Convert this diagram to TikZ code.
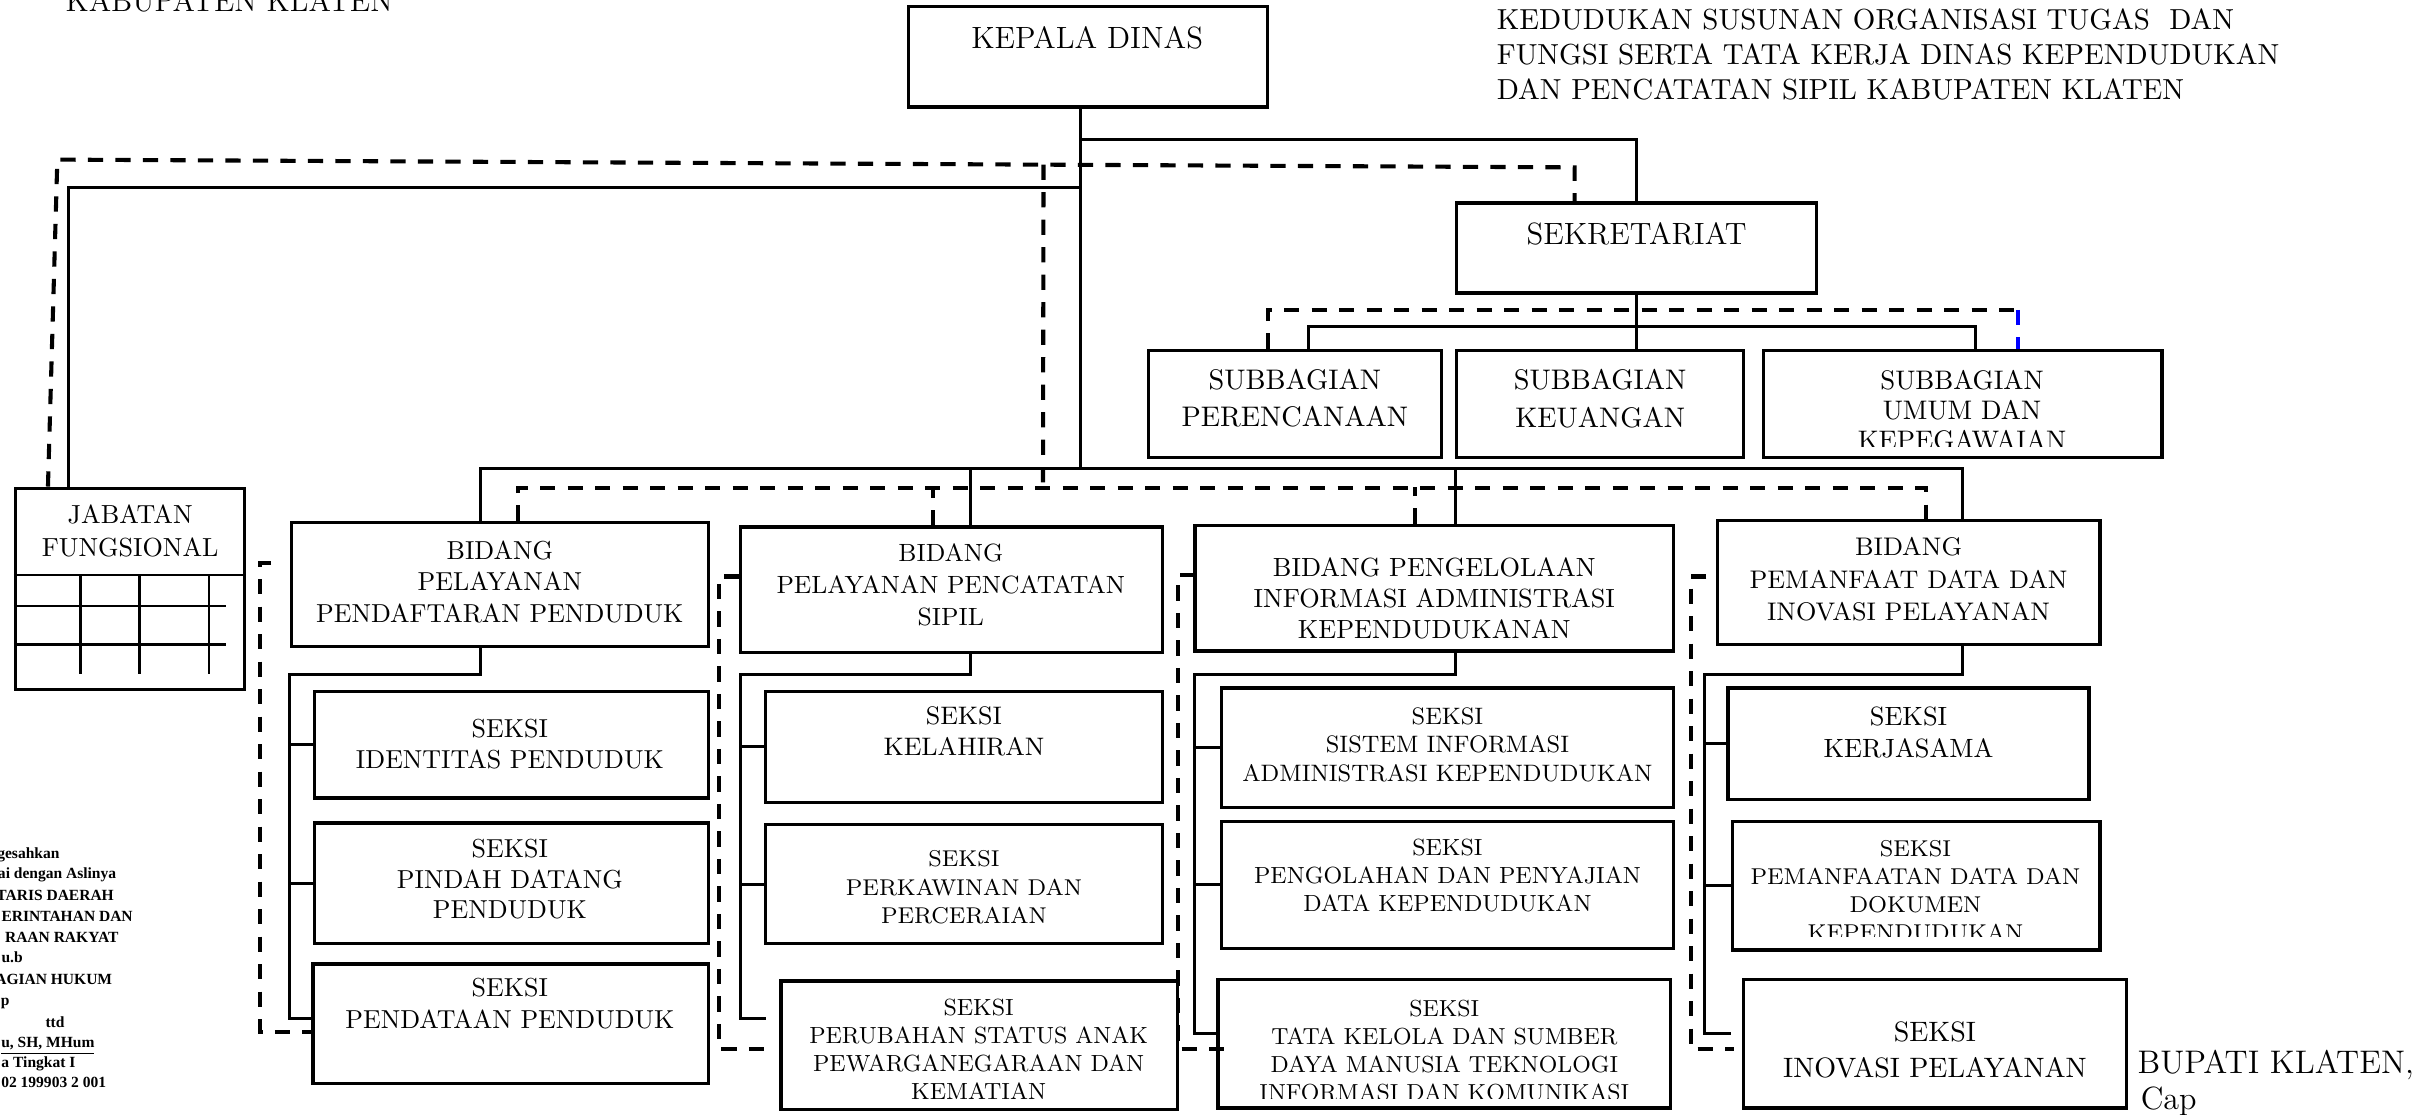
\documentclass[tikz,border=0pt]{standalone}
\usepackage{fontspec}
\newfontfamily\tnr{Liberation Serif}
\usetikzlibrary{calc}

\begin{document}
\begin{tikzpicture}[x=0.02cm, y=-0.02cm,
    kotak/.style={draw, line width=1.2pt, inner sep=0pt},
    teks/.style={align=center, inner sep=0pt},
    garis/.style={line width=1.1pt},
    putus/.style={line width=1.5pt, dash pattern=on 5.6pt off 4.5pt},
    kecil/.style={inner sep=0pt, font=\tnr\bfseries\fontsize{5.7}{7}\selectfont}]
  \useasboundingbox (0,0) rectangle (1568,719);

  \node[anchor=base west, inner sep=0pt, font=\fontsize{11.2}{13}\selectfont] (kab) at (42,7.5) {KABUPATEN KLATEN};
  \foreach \y/\tx [count=\i] in {18.9/KEDUDUKAN SUSUNAN ORGANISASI TUGAS \ DAN, 41.5/FUNGSI SERTA TATA KERJA DINAS KEPENDUDUKAN, 63.9/DAN PENCATATAN SIPIL KABUPATEN KLATEN}
    \node[anchor=base west, inner sep=0pt, font=\fontsize{10.64}{12.8}\selectfont] (judul\i) at (965.5,\y) {\tx};

  \foreach \nm/\xa/\ya/\xb/\yb in {kadis/586/4/818/69, sekre/940/131/1172/189,
      sub1/741/226/930/295, sub2/940/226/1125/295, sub3/1138/226/1395/295, jab/10/315/158/445,
      b1/188/337/457/417, b2/478/340/750/421, b3/771/339/1080/420, b4/1108/336/1355/416,
      s11/203/446/457/515, s12/203/531/457/609, s13/202/622/457/699,
      s21/494/446/750/518, s22/494/532/750/609, s23/504/633/760/716,
      s31/788/444/1080/521, s32/788/530/1080/612, s33/786/632/1078/715,
      s41/1115/444/1348/516, s42/1118/530/1355/613, s43/1125/632/1372/715}
    \node[kotak, minimum width={(\xb-\xa)*0.02cm}, minimum height={(\yb-\ya)*0.02cm}] (\nm) at ({(\xa+\xb)/2},{(\ya+\yb)/2}) {};

  \foreach \nm/\px/\py/\fs/\ls/\ct/\tx in {kadis/701.5/24.2/11.3/13/0/KEPALA DINAS,
      sekre/1056/150.6/11.3/13/0/SEKRETARIAT,
      sub1/835.5/257/10.4/13.7/0/SUBBAGIAN\\PERENCANAAN,
      sub2/1032.5/257.3/10.4/13.7/0/SUBBAGIAN\\KEUANGAN,
      sub3/1266/264.5/9.85/11.05/8/SUBBAGIAN\\UMUM DAN\\KEPEGAWAIAN,
      jab/84/342.5/9.6/11.95/0/JABATAN\\FUNGSIONAL,
      b1/322.5/375.5/9.55/11.66/0/BIDANG\\PELAYANAN\\PENDAFTARAN PENDUDUK,
      s11/329/480/9.55/11.4/0/SEKSI\\IDENTITAS PENDUDUK,
      s12/329/567.5/9.55/11.2/0/SEKSI\\PINDAH DATANG\\PENDUDUK,
      s13/329/647.5/9.55/11.95/0/SEKSI\\PENDATAAN PENDUDUK,
      b2/613.5/377.5/9.16/11.66/0/BIDANG\\PELAYANAN PENCATATAN\\SIPIL,
      s21/622/472/9.3/11.4/0/SEKSI\\KELAHIRAN,
      s22/622/572.5/8.4/10.5/0/SEKSI\\PERKAWINAN DAN\\PERCERAIAN,
      s23/631.5/677/8.58/10.25/0/SEKSI\\PERUBAHAN STATUS ANAK\\PEWARGANEGARAAN DAN\\KEMATIAN,
      b3/925.5/386/9.65/11.4/0/BIDANG PENGELOLAAN\\INFORMASI ADMINISTRASI\\KEPENDUDUKANAN,
      s31/934/480.5/8.73/10.5/0/SEKSI\\SISTEM INFORMASI\\ADMINISTRASI KEPENDUDUKAN,
      s32/934/565/8.58/10.25/0/SEKSI\\PENGOLAHAN DAN PENYAJIAN\\DATA KEPENDUDUKAN,
      s33/932/678/8.52/10.25/7.5/SEKSI\\TATA KELOLA DAN SUMBER\\DAYA MANUSIA TEKNOLOGI\\INFORMASI DAN KOMUNIKASI,
      b4/1231.5/374/9.35/11.95/0/BIDANG\\PEMANFAAT DATA DAN\\INOVASI PELAYANAN,
      s41/1231.5/472.5/9.7/11.95/0/SEKSI\\KERJASAMA,
      s42/1236/574.5/8.41/10.25/9.5/SEKSI\\PEMANFAATAN DATA DAN\\DOKUMEN\\KEPENDUDUKAN,
      s43/1248.5/677.5/10.3/13.1/0/SEKSI\\INOVASI PELAYANAN} {
    \begin{scope}
      \clip (\nm.north west) rectangle ($(\nm.south east)+(0,-\ct)$);
      \node[teks, font=\fontsize{\fs}{\ls}\selectfont] (\nm-t) at (\px,\py) {\tx};
    \end{scope}
  }

  \draw[line width=0.6pt] ($(jab.north west)+(0,57)$) -- ($(jab.north east)+(0,57)$);
  \foreach \dx in {43,81,126} \draw[line width=0.9pt] ($(jab.north west)+(\dx,57)$) -- ++(0,64);
  \foreach \dy in {77,102} \draw[line width=0.9pt] ($(jab.north west)+(0,\dy)$) -- ++(137,0);

  \coordinate (pusat) at (697,302);
  \coordinate (t1) at (697,90);
  \coordinate (t2) at (697,121);
  \coordinate (sbus) at (1056,211);
  \draw[line width=1pt] (kadis.south -| pusat) -- (pusat);
  \draw[garis] (t1) -| (sekre.north);
  \draw[garis] (t2) -| ($(jab.north west)+(35,0)$);
  \draw[line width=1pt] (sekre.south) -- (sekre.south |- sub2.north);
  \draw[garis] ($(sub1.north)+(8.5,0)$) |- (sbus) -| ($(sub3.north)+(8,0)$);
  \foreach \c/\dx in {1/-12.5, 2/12, 3/13.5, 4/34.5}
    \draw[garis] ($(b\c.north)+(\dx,0)$) |- (pusat);

  \foreach \c/\dx/\xl/\yb/\xe in {1/-12.5/187/657/202, 2/12/478/657/494, 3/13.5/771/667/787, 4/34.5/1100/667/1117} {
    \coordinate (k\c) at (\xl,435);
    \coordinate (m\c) at (\xl,\yb);
    \coordinate (e\c) at (\xe,\yb);
    \draw[garis] ($(b\c.south)+(\dx,0)$) |- (k\c) -- (m\c) -- (e\c);
    \draw[garis] (k\c |- s\c1.west) -- (s\c1.west);
    \draw[garis] (k\c |- s\c2.west) -- (s\c2.west);
  }

  \coordinate (d1) at (37,103);
  \coordinate (d2) at (1016,108);
  \coordinate (d3) at ($(d1)!0.65!(d2)$);
  \coordinate (dbus) at (673,315);
  \coordinate (sd) at (1302,200);
  \draw[putus] ($(jab.north west)+(22,0)$) -- (d1) -- (d2) -- (d2 |- sekre.north);
  \draw[putus] (d3) -- (dbus);
  \draw[putus] ($(b1.north)+(11.5,0)$) |- (dbus) -| ($(b4.north)+(11.5,0)$);
  \foreach \c/\dx/\h in {2/-12/25, 3/-12.5/24}
    \draw[putus] ($(b\c.north)+(\dx,0)$) -- ++(0,-\h);
  \draw[putus] ($(sub1.north)+(-17.5,0)$) |- (sd);
  \draw[putus, blue] (sd) -- (sd |- sub3.north);

  \foreach \c/\xs/\xd/\ya/\yb/\xe in {1/175/168/363/666/201, 2/477/464/372/677/500, 3/771/760/371/677/794, 4/1101/1091/372/677/1119} {
    \coordinate (p\c) at (\xs,\ya);
    \coordinate (r\c) at (\xd,\yb);
    \coordinate (q\c) at (\xe,\yb);
    \draw[putus] (p\c) -| (r\c) -- (q\c);
  }

  \foreach \xr/\yb/\tx [count=\i] in {38.7/554/gesahkan, 75.3/567/ai dengan Aslinya, 73.8/581/TARIS DAERAH,
      86/594.5/ERINTAHAN DAN, 76.8/608/RAAN RAKYAT, 15/621/u.b, 72.7/635/AGIAN HUKUM, 6.5/649/p,
      42/663/ttd, 61.3/676/{\underline{u, SH, MHum}}, 49/689/a Tingkat I, 68.8/701.5/02 199903 2 001}
    \node[kecil, anchor=base east] (sah\i) at (\xr,\yb) {\tx};

  \node[anchor=base west, inner sep=0pt, font=\fontsize{12}{14}\selectfont] (bupati) at (1379,693) {BUPATI KLATEN,};
  \node[anchor=base west, inner sep=0pt, font=\fontsize{11.8}{14}\selectfont] (cap) at (1381,716) {Cap};
\end{tikzpicture}
\end{document}
